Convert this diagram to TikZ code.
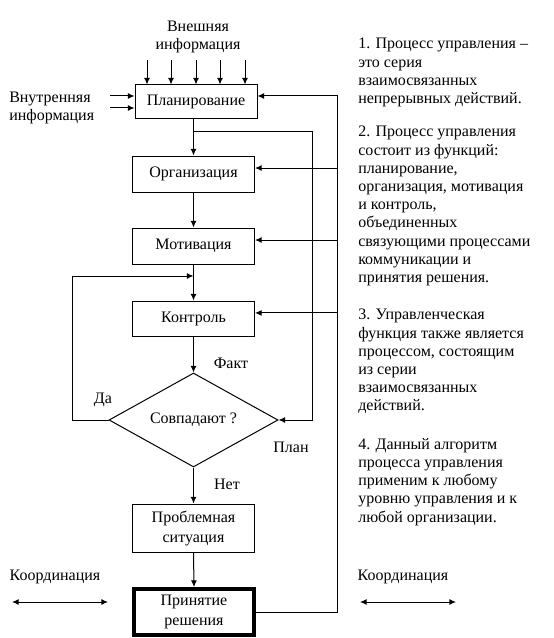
\documentclass[tikz,border=0pt]{standalone}
\usepackage{fontspec}
\setmainfont{Liberation Serif}
\usepackage{tikz}
\usetikzlibrary{shapes.geometric, arrows.meta, positioning}
\tikzset{
    box/.style={rectangle, minimum width=91.5pt, text centered, draw, line width=0.75pt, align=center, inner sep=0pt, font=\fontsize{12}{15}\selectfont},
    flow/.style={-{Latex[length=5pt,width=4.5pt]}, line width=0.75pt},
    twoway/.style={{Latex[length=5pt,width=4.5pt]}-{Latex[length=5pt,width=4.5pt]}, line width=0.75pt},
    lbl/.style={font=\fontsize{12}{13}\selectfont, inner sep=0pt, align=center},
    note/.style={font=\fontsize{12}{13.65}\selectfont, inner sep=0pt, align=left, anchor=north west}
}

\begin{document}
\begin{tikzpicture}[x=0.75pt, y=-0.75pt,
    decision/.style={diamond, draw, line width=0.75pt, aspect=1.8, minimum width=126.75pt, minimum height=70.5pt, inner sep=0pt, font=\fontsize{12}{15}\selectfont}
]
    \useasboundingbox (0,0) rectangle (553,638);

    % Main column
    \node[box, minimum height=25.5pt] (plan) at (196,102) {Планирование};
    \node[box, minimum height=27pt] (org) at (193.5,174) {Организация};
    \node[box, minimum height=27pt] (motiv) at (193.5,246) {Мотивация};
    \node[box, minimum height=26.25pt] (ctrl) at (193.5,318.5) {Контроль};
    \node[decision] (cmp) at (193.5,420) {Совпадают ?};
    \node[box, minimum height=36pt] (prob) at (193.5,528) {Проблемная\\ситуация};
    \node[box, line width=3pt, minimum width=90pt, minimum height=34.5pt] (decide) at (194,612) {Принятие\\решения};

    % Information
    \node[lbl] (ext_info) at (198,37) {Внешняя\\информация};
    \node[lbl, align=left, anchor=west] (int_info) at (9,108) {Внутренняя\\информация};
    \foreach \x [count=\i] in {147,171,196,220,245} {
        \coordinate (ext\i) at (\x,60);
        \draw[flow] (ext\i) -- (ext\i |- plan.north);
    }
    \coordinate (int1) at (110,96);
    \coordinate (int2) at (110,108);
    \draw[flow] (int1) -- (int1 -| plan.west);
    \draw[flow] (int2) -- (int2 -| plan.west);

    % Labels
    \node[lbl] (fact) at (231,363) {Факт};
    \node[lbl] (yes) at (103,400) {Да};
    \node[lbl] (planlbl) at (291,447) {План};
    \node[lbl] (no) at (227,484) {Нет};

    % Column flows
    \draw[flow] (plan.south -| org.north) -- (org.north);
    \draw[flow] (org.south) -- (motiv.north);
    \draw[flow] (motiv.south) -- (ctrl.north);
    \draw[flow] (ctrl.south) -- (cmp.north);
    \draw[flow] (cmp.south) -- (prob.north);
    \draw[flow] (prob.south) -- (decide.north);

    % Plan loop
    \coordinate (ibus) at (312,132);
    \draw[flow] (ibus -| org.north) -- (ibus) |- (cmp.east);

    % Yes loop
    \coordinate (ybus) at (72,276);
    \draw[flow] (cmp.west) -| (ybus) -- (ybus -| motiv.south);

    % Feedback from decision
    \coordinate (rbus) at (337,612);
    \draw[flow] (decide.east) -- (rbus) |- ([yshift=4.5pt]plan.east);
    \draw[flow] ([yshift=4.5pt]org.east -| rbus) -- ([yshift=4.5pt]org.east);
    \draw[flow] ([yshift=4.5pt]motiv.east -| rbus) -- ([yshift=4.5pt]motiv.east);
    \draw[flow] ([yshift=4.2pt]ctrl.east -| rbus) -- ([yshift=4.2pt]ctrl.east);

    % Coordination
    \node[lbl] (coord_l) at (55,577) {Координация};
    \node[lbl] (coord_r) at (403,577) {Координация};
    \coordinate (cl1) at (12,602);
    \coordinate (cl2) at (108,602);
    \coordinate (cr1) at (360,602);
    \coordinate (cr2) at (456,602);
    \draw[twoway] (cl1) -- (cl2);
    \draw[twoway] (cr1) -- (cr2);

    % Notes
    \node[note] (note1) at (358,38) {1. Процесс управления –\\это серия\\взаимосвязанных\\непрерывных действий.};
    \node[note] (note2) at (358,126) {2. Процесс управления\\состоит из функций:\\планирование,\\организация, мотивация\\и контроль,\\объединенных\\связующими процессами\\коммуникации и\\принятия решения.};
    \node[note] (note3) at (358,309) {3. Управленческая\\функция также является\\процессом, состоящим\\из серии\\взаимосвязанных\\действий.};
    \node[note] (note4) at (358,438) {4. Данный алгоритм\\процесса управления\\применим к любому\\уровню управления и к\\любой организации.};
\end{tikzpicture}
\end{document}
